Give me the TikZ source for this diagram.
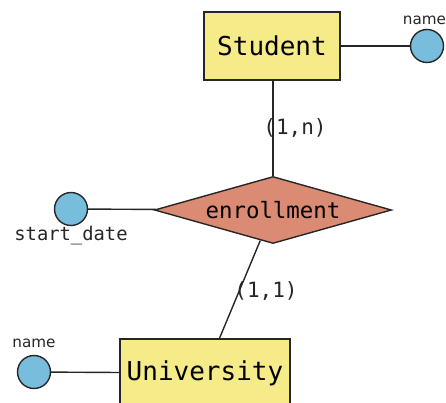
\documentclass[tikz,border=0pt]{standalone}
\usepackage{fontspec}
\setmainfont{DejaVu Sans}
\newfontfamily\monofont{DejaVu Sans Mono}
\usetikzlibrary{shapes.geometric}
\definecolor{entityfill}{HTML}{F5EB88}
\definecolor{relfill}{HTML}{DB8B73}
\definecolor{attrfill}{HTML}{78BDDC}
\tikzset{
  entity/.style={draw=black!85, line width=1.4pt, fill=entityfill, minimum height=68pt, inner sep=0pt, font=\monofont\fontsize{26}{26}\selectfont},
  relation/.style={draw=black!85, line width=1.4pt, fill=relfill, diamond, aspect=3.54, minimum width=237pt, minimum height=67pt, inner sep=0pt, font=\monofont\fontsize{22.4}{22.4}\selectfont},
  attr/.style={circle, draw=black!85, line width=1.4pt, fill=attrfill, minimum size=33pt, inner sep=0pt},
  link/.style={line width=1.4pt, black!85},
  card/.style={font=\monofont\fontsize{21}{21}\selectfont, text=black!85, inner sep=0pt},
  attrlabel/.style={font=\fontsize{15.2}{15.2}\selectfont, text=black!85, inner sep=0pt},
  monolabel/.style={font=\monofont\fontsize{18.8}{18.8}\selectfont, text=black!85, inner sep=0pt}
}
\begin{document}
\begin{tikzpicture}[x=1pt, y=1pt]
\useasboundingbox (0,0) rectangle (446,-403);
\begin{scope}
\clip (0,0) rectangle (446,-403);
% entities and relationship
\node[entity, minimum width=136pt] (student) at (272,-46) {Student};
\node[entity, minimum width=170pt] (univ) at (205,-373) {University};
\node[relation] (enr) at (273,-210) {enrollment};
% attributes
\node[attr] (sname) at (427,-46) {};
\node[attr] (sdate) at (71,-209) {};
\node[attr] (uname) at (34,-372) {};
% connectors
\draw[link] (student) -- (sname);
\draw[link] (student.south -| enr.north) -- (enr.north);
\draw[link] (sdate) -- (enr);
\draw[link] (enr) -- (univ);
\draw[link] (uname) -- (univ);
% labels
\node[attrlabel] (snamel) at (424.5,-20) {name};
\node[attrlabel] (unamel) at (34,-343) {name};
\node[monolabel] (sdatel) at (71,-236) {start\_date};
\node[card] (c1) at (295,-128) {(1,n)};
\node[card] (c2) at (266,-291) {(1,1)};
\end{scope}
\end{tikzpicture}
\end{document}
